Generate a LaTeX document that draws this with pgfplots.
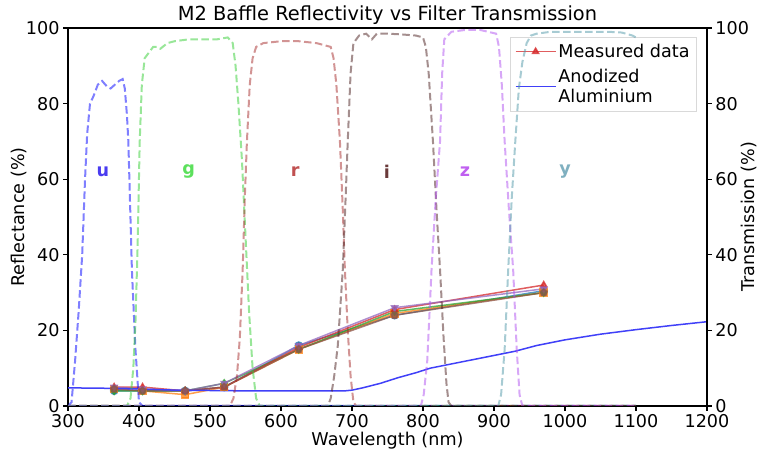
\documentclass[border=0pt]{standalone}
\usepackage{fontspec}
\setmainfont{DejaVu Sans}
\usepackage{pgfplots}
\pgfplotsset{compat=1.18}
\definecolor{fu}{HTML}{0000FF}
\definecolor{fg}{HTML}{32CD32}
\definecolor{fr}{HTML}{A52A2A}
\definecolor{fi}{HTML}{4A1E1E}
\definecolor{fz}{HTML}{B050F0}
\definecolor{fy}{HTML}{5098A8}
\definecolor{tu}{HTML}{4A3CF0}
\definecolor{tg}{HTML}{5CE05C}
\definecolor{tr}{HTML}{C05050}
\definecolor{ti}{HTML}{6A3A3A}
\definecolor{tz}{HTML}{C060F0}
\definecolor{ty}{HTML}{80B0C0}
\definecolor{c0}{HTML}{1F77B4}
\definecolor{c1}{HTML}{FF7F0E}
\definecolor{c2}{HTML}{2CA02C}
\definecolor{c3}{HTML}{D62728}
\definecolor{c4}{HTML}{9467BD}
\definecolor{c5}{HTML}{8C564B}
\definecolor{alu}{HTML}{4040F8}
\newcommand{\fs}{\fontsize{17.6bp}{20bp}\selectfont}
\pgfplotsset{
  common/.style={
    scale only axis, width=639bp, height=378bp,
    xmin=300, xmax=1200, ymin=0, ymax=100,
    tick align=outside, major tick length=4.9bp,
    tick style={black, line width=1.1bp},
    axis line style={line width=1.1bp},
    ticklabel style={font=\fs},
    label style={font=\fs},
    /pgf/number format/assume math mode=true,
    /pgf/number format/1000 sep={},
    scaled ticks=false,
    ytick={0,20,...,100},
  },
  filt/.style={line width=2bp, dash pattern=on 7.5bp off 3.5bp, opacity=0.5},
  meas/.style={line width=1.5bp, opacity=0.75, mark size=3.5bp},
}
\begin{document}
\begin{tikzpicture}
\begin{axis}[common, name=ax,
  xtick={300,400,...,1200}, ytick pos=left, xtick pos=bottom,
  xlabel={Wavelength (nm)}, ylabel={Reflectance (\%)},
  ylabel style={at={(axis description cs:0,0.5)}, yshift=49bp, anchor=center},
  title={M2 Baffle Reflectivity vs Filter Transmission},
  title style={font=\fontsize{19.4bp}{22bp}\selectfont, yshift=-6bp},
  xlabel style={yshift=2bp},
  legend style={at={(0.984,0.976)}, anchor=north east, draw=black!15,
    fill=white, fill opacity=0.8, text opacity=1, font=\fs,
    cells={align=left}, inner xsep=5bp, inner ysep=5bp, row sep=6bp},
  legend cell align=left,
]
\addplot[meas, c0, mark=*, forget plot] coordinates {(365,4) (405,4) (465,4) (520,5) (625,16) (760,24) (970,30.5)};
\addplot[meas, c1, mark=square*, forget plot] coordinates {(365,4.5) (405,4) (465,3) (520,5) (625,15) (760,24.5) (970,30)};
\addplot[meas, c2, mark=diamond*, forget plot] coordinates {(365,4) (405,4) (465,4) (520,6) (625,15) (760,25) (970,30)};
\addplot[meas, c3, mark=triangle*, legend image code/.code={\draw[mark repeat=2, mark phase=2, opacity=0.75, line width=1.5bp] plot coordinates {(0bp,0bp) (20bp,0bp) (40bp,0bp)};}] coordinates {(365,5) (405,5) (465,4) (520,5) (625,15.5) (760,25.5) (970,32)};
\addlegendentry{Measured data}
\addplot[meas, c4, mark=triangle*, mark options={rotate=180}, forget plot] coordinates {(365,5) (405,4.5) (465,4) (520,6) (625,16) (760,26) (970,31)};
\addplot[meas, c5, mark=pentagon*, forget plot] coordinates {(365,4.5) (405,4) (465,4) (520,5) (625,15) (760,24) (970,30)};
\addplot[color=alu, line width=1.5bp, legend image code/.code={\draw (0bp,0bp) -- (40bp,0bp);}] coordinates {(300,4.8) (350,4.7) (400,4.5) (450,4.2) (500,4.1) (550,4.0) (600,4.0) (650,4.0) (690,4.0) (700,4.2) (715,4.8) (740,6) (765,7.5) (790,8.8) (810,10) (850,11.5) (890,13) (930,14.5) (960,16) (1000,17.5) (1050,19) (1100,20.2) (1150,21.3) (1200,22.3)};
\addlegendentry{Anodized\\Aluminium}
\end{axis}
\begin{axis}[common,
  axis x line=none, axis y line*=right, ytick pos=right,
  ylabel={Transmission (\%)},
  ylabel style={at={(axis description cs:1,0.5)}, yshift=-42bp, anchor=center},
]
\addplot[filt, fu] coordinates {(300,0) (305,1) (310,12) (315,25) (320,40) (324,60) (327,72) (331,80) (336,82) (342,85) (348,86) (355,84.5) (360,84) (366,85) (372,86) (377,86.5) (380,84) (383,77) (385,70) (390,36) (395,15) (400,1) (405,0) (1100,0)};
\addplot[filt, fg] coordinates {(300,0) (383,0) (388,2) (392,10) (395,22) (398,42) (401,70) (404,85) (408,92) (412,93) (420,95) (425,95) (430,94.5) (440,96) (450,96.5) (470,97) (490,97) (510,97) (525,97.5) (532,96) (536,90) (540,80) (545,65) (550,45) (555,25) (560,10) (565,2) (570,0) (1100,0)};
\addplot[filt, fr] coordinates {(300,0) (528,0) (533,2) (538,8) (542,18) (546,36) (549,55) (552,70) (556,85) (560,92) (565,95) (575,96) (600,96.5) (625,96.5) (650,96) (670,95) (674,92) (678,85) (683,70) (687,52) (690,36) (694,20) (698,8) (702,1) (706,0) (1100,0)};
\addplot[filt, fi] coordinates {(300,0) (666,0) (670,2) (675,8) (680,16) (687,36) (691,55) (694,70) (698,88) (702,96) (710,98) (720,98.5) (728,97) (735,98.5) (750,98.5) (770,98.3) (790,98) (800,97.5) (804,95) (808,88) (814,70) (819,52) (824,36) (829,18) (833,6) (836,1) (840,0) (1100,0)};
\addplot[filt, fz] coordinates {(300,0) (797,0) (801,3) (806,12) (812,36) (818,55) (824,70) (827,88) (830,97) (840,99) (860,99.5) (880,99.5) (903,98.5) (907,95) (911,85) (915,70) (921,52) (927,36) (932,15) (936,3) (940,0) (1100,0)};
\addplot[filt, fy] coordinates {(300,0) (906,0) (910,3) (915,15) (920,36) (925,55) (930,70) (935,84) (940,91) (946,96) (952,98) (960,98.5) (980,99) (1000,99) (1030,99) (1060,99) (1080,98.8) (1095,98) (1100,97.5)};
\node[text=tu, font=\fs\bfseries] at (axis cs:349,62) {u};
\node[text=tg, font=\fs\bfseries] at (axis cs:470,62) {g};
\node[text=tr, font=\fs\bfseries] at (axis cs:620,62) {r};
\node[text=ti, font=\fs\bfseries] at (axis cs:749,62) {i};
\node[text=tz, font=\fs\bfseries] at (axis cs:859,62) {z};
\node[text=ty, font=\fs\bfseries] at (axis cs:1000,62) {y};
\end{axis}
\pgfresetboundingbox
\path[use as bounding box] ([xshift=-68bp,yshift=-46bp]ax.south west) rectangle ([xshift=55bp,yshift=28bp]ax.north east);
\end{tikzpicture}
\end{document}
